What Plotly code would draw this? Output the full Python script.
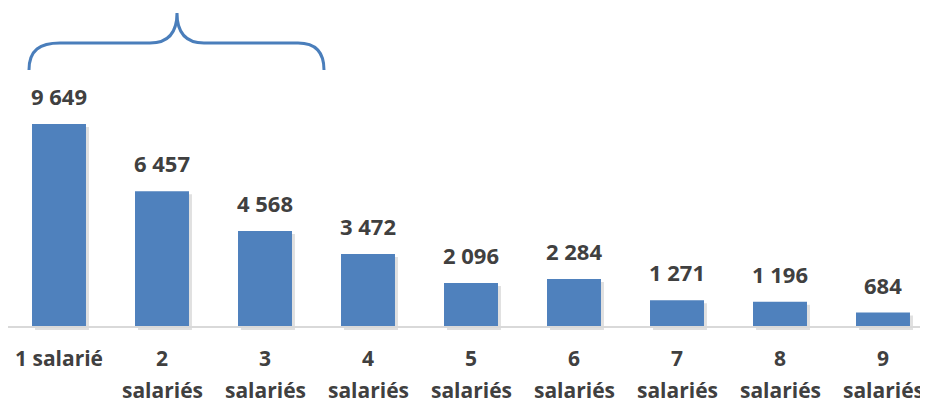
import plotly.graph_objects as go


# ---------------------------
# DATA
# ---------------------------

categories = [
    "1 salarié",
    "2<br>salariés",
    "3<br>salariés",
    "4<br>salariés",
    "5<br>salariés",
    "6<br>salariés",
    "7<br>salariés",
    "8<br>salariés",
    "9<br>salariés",
]

effectifs = [9649, 6457, 4568, 3472, 2096, 2284, 1271, 1196, 684]

value_labels = ["9 649", "6 457", "4 568", "3 472", "2 096",
                "2 284", "1 271", "1 196", "684"]


# ---------------------------
# LAYOUT CONSTANTS
# ---------------------------

# the page body has an 8px margin, so the figure sits at (8, 8)
PAGE = 8
W, H = 928, 403
PX_PER_UNIT = 0.02104
BASE_PX = 327 - PAGE          # baseline inside the figure
M_L, M_R, M_T = 0, 0, 0
M_B = H - BASE_PX - 6
X_RANGE = [-(59 - PAGE) / 103, -(59 - PAGE) / 103 + W / 103]
Y_RANGE = [-6 / PX_PER_UNIT, BASE_PX / PX_PER_UNIT]

BLUE = "#4f81bd"
TEXT = "#404040"
FONT = "Open Sans"

xs = list(range(len(categories)))
bar_w = 0.524


def to_data(px, py):
    # screen pixel -> data coordinates (for the decorative brace)
    px, py = px - PAGE, py - PAGE
    plot_w = W - M_L - M_R
    plot_h = H - M_T - M_B
    x = X_RANGE[0] + (px - M_L) / plot_w * (X_RANGE[1] - X_RANGE[0])
    y = Y_RANGE[1] - (py - M_T) / plot_h * (Y_RANGE[1] - Y_RANGE[0])
    return x, y


fig = go.Figure()

# soft shadow under each bar
shift_x = 3 / 103
fig.add_trace(
    go.Bar(
        x=xs,
        y=effectifs,
        base=-3 / PX_PER_UNIT,
        width=bar_w,
        offset=-bar_w / 2 + shift_x,
        marker=dict(color="rgba(0,0,0,0.12)", line=dict(width=0)),
        hoverinfo="skip",
        showlegend=False,
    )
)

fig.add_trace(
    go.Bar(
        x=xs,
        y=effectifs,
        width=bar_w,
        offset=-bar_w / 2,
        marker=dict(color=BLUE, line=dict(width=0)),
        showlegend=False,
    )
)

# value labels
for x, v, t in zip(xs, effectifs, value_labels):
    fig.add_annotation(
        x=x, y=v, text="<b>" + t + "</b>",
        showarrow=False, yanchor="middle", yshift=28,
        font=dict(family=FONT, size=22, color=TEXT),
    )

# category labels (two rows)
for x, c in zip(xs, categories):
    parts = c.split("<br>")
    fig.add_annotation(
        x=x, y=0, text="<b>" + parts[0] + "</b>",
        showarrow=False, yanchor="middle", yshift=-31,
        font=dict(family=FONT, size=21, color=TEXT),
    )
    if len(parts) > 1:
        fig.add_annotation(
            x=x, y=0, text="<b>" + parts[1] + "</b>",
            showarrow=False, yanchor="middle", yshift=-63,
            font=dict(family=FONT, size=21, color=TEXT),
        )

# baseline
fig.add_shape(
    type="line", xref="paper", yref="y",
    x0=0, x1=(925 - PAGE) / W, y0=0, y1=0,
    line=dict(color="#d9d9d9", width=2),
)

# brace over the first three categories
pts = [(29, 70), (29, 50), (40, 43), (60, 43), (150, 43),
       (166, 43), (177, 35), (177, 13), (177, 35), (188, 43),
       (204, 43), (298, 43), (313, 43), (324, 50), (324, 70)]
d = [to_data(px, py) for px, py in pts]
f = lambda p: f"{p[0]:.4f},{p[1]:.2f}"
path = (
    f"M {f(d[0])} C {f(d[1])} {f(d[2])} {f(d[3])} L {f(d[4])} "
    f"C {f(d[5])} {f(d[6])} {f(d[7])} C {f(d[8])} {f(d[9])} {f(d[10])} "
    f"L {f(d[11])} C {f(d[12])} {f(d[13])} {f(d[14])}"
)
fig.add_shape(
    type="path", xref="x", yref="y", path=path,
    line=dict(color="#4a7ebb", width=3),
)

fig.update_layout(
    width=W,
    height=H,
    barmode="overlay",
    margin=dict(l=M_L, r=M_R, t=M_T, b=M_B),
    paper_bgcolor="white",
    plot_bgcolor="white",
    xaxis=dict(range=X_RANGE, showticklabels=False, showgrid=False,
               zeroline=False, fixedrange=True),
    yaxis=dict(range=Y_RANGE, visible=False, showgrid=False,
               zeroline=False, fixedrange=True),
)

fig.write_html("out.html", config={"displayModeBar": False})
